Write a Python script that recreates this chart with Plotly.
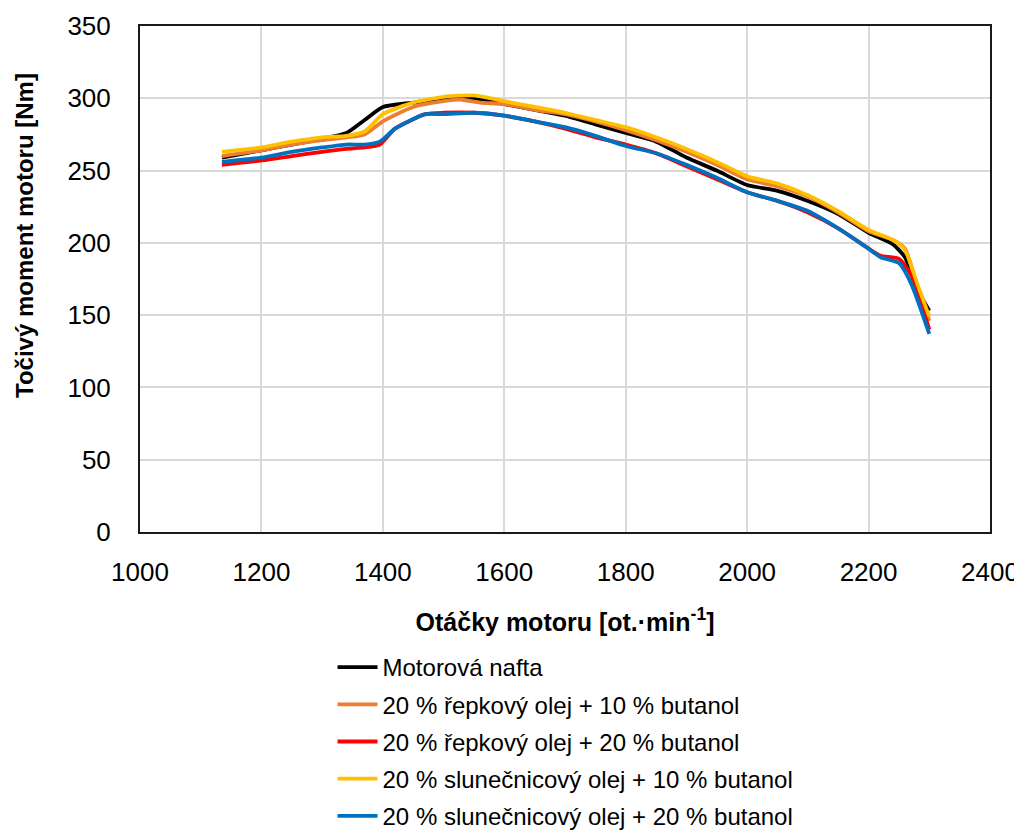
import plotly.graph_objects as go

# Data
rpm_nafta = [1135, 1200, 1250, 1300, 1340, 1370, 1400, 1450, 1500, 1550, 1600, 1650, 1700, 1750, 1800, 1850, 1900, 1950, 2000, 2050, 2100, 2150, 2200, 2240, 2260, 2280, 2300]
tq_nafta = [259, 264, 268, 272, 276, 285, 294, 297, 300, 300, 296, 292, 288, 282, 276, 270, 259, 250, 240, 236, 229, 220, 207, 199, 190, 168, 153]

rpm_r10 = [1135, 1200, 1250, 1300, 1340, 1370, 1400, 1450, 1500, 1530, 1560, 1600, 1650, 1700, 1750, 1800, 1850, 1900, 1950, 2000, 2050, 2100, 2150, 2200, 2240, 2260, 2280, 2300]
tq_r10 = [260, 264, 268, 271, 273, 275, 284, 294, 298, 299, 297, 296, 292, 289, 284, 278, 271, 263, 254, 244, 239, 232, 221, 208, 202, 196, 170, 146]

rpm_r20 = [1135, 1200, 1250, 1300, 1340, 1370, 1395, 1420, 1470, 1500, 1550, 1600, 1650, 1700, 1750, 1800, 1850, 1900, 1950, 2000, 2050, 2100, 2150, 2200, 2220, 2250, 2270, 2300]
tq_r20 = [254, 257, 260, 263, 265, 266, 268, 279, 289, 290, 290, 288, 284, 279, 273, 268, 262, 253, 244, 235, 229, 221, 210, 196, 191, 189, 178, 140]

rpm_s10 = [1135, 1200, 1250, 1300, 1340, 1370, 1400, 1450, 1500, 1550, 1600, 1650, 1700, 1750, 1800, 1850, 1900, 1950, 2000, 2050, 2100, 2150, 2200, 2240, 2260, 2280, 2300]
tq_s10 = [263, 266, 270, 273, 274, 277, 289, 297, 301, 302, 298, 294, 290, 285, 280, 273, 265, 256, 246, 241, 233, 222, 209, 202, 195, 172, 149]

rpm_s20 = [1135, 1200, 1250, 1300, 1340, 1370, 1395, 1420, 1470, 1500, 1550, 1600, 1650, 1700, 1750, 1800, 1850, 1900, 1950, 2000, 2050, 2100, 2150, 2200, 2220, 2250, 2270, 2300]
tq_s20 = [256, 259, 263, 266, 268, 268, 270, 279, 289, 289, 290, 288, 284, 280, 274, 267, 262, 254, 245, 235, 229, 222, 210, 196, 190, 186, 172, 137]

names = ["Motorová nafta",
         "20 % řepkový olej + 10 % butanol",
         "20 % řepkový olej + 20 % butanol",
         "20 % slunečnicový olej + 10 % butanol",
         "20 % slunečnicový olej + 20 % butanol"]
colors = ["#000000", "#ED7D31", "#FF0000", "#FFC000", "#0070C0"]
series = [(rpm_nafta, tq_nafta), (rpm_r10, tq_r10), (rpm_r20, tq_r20), (rpm_s10, tq_s10), (rpm_s20, tq_s20)]

x_title = "<b>Otáčky motoru [ot.·min<sup>-1</sup>]</b>"
y_title = "<b>Točivý moment motoru [Nm]</b>"

fig = go.Figure()
for i, ((x, y), n, c) in enumerate(zip(series, names, colors)):
    fig.add_trace(go.Scatter(x=x, y=y, name=n, mode="lines", legendgroup=f"g{i}",
                             line=dict(color=c, width=3.8, shape="spline", smoothing=0.6)))

font_family = "Liberation Sans, Arial, sans-serif"
fig.update_layout(
    width=1014, height=845,
    margin=dict(l=132, r=32, t=18, b=321),
    paper_bgcolor="white", plot_bgcolor="white",
    font=dict(family=font_family, size=24, color="black"),
    showlegend=True,
    legend=dict(x=0.2265, y=-0.2233, xanchor="left", yanchor="top",
                font=dict(size=24), traceorder="grouped", tracegroupgap=3, itemwidth=40),
    xaxis=dict(range=[1000, 2400], dtick=200, showgrid=True, gridcolor="#D9D9D9", gridwidth=2,
               showline=True, linecolor="#1a1a1a", linewidth=2, mirror=True, zeroline=False,
               ticks="", tickfont=dict(size=26), ticklabelstandoff=16, automargin=False,
               title=dict(text=x_title, font=dict(size=25), standoff=27)),
    yaxis=dict(range=[0, 350], dtick=50, showgrid=True, gridcolor="#D9D9D9", gridwidth=2,
               showline=True, linecolor="#1a1a1a", linewidth=2, mirror=True, zeroline=False,
               ticks="", tickfont=dict(size=26), ticklabelstandoff=22, automargin=False),
    annotations=[dict(text=y_title, textangle=-90, xref="paper", yref="paper",
                      x=-0.1353, y=0.587, xanchor="center", yanchor="middle",
                      showarrow=False, font=dict(size=24))],
)

fig.write_html("out.html", post_script="document.documentElement.style.overflow='hidden';document.body.style.overflow='hidden';")
